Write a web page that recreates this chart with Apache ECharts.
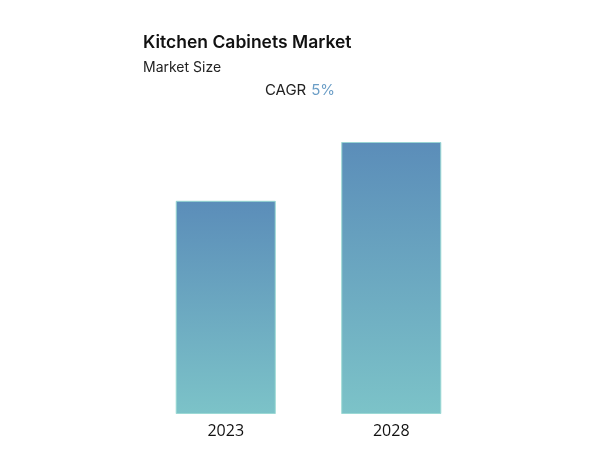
<!DOCTYPE html>
<html><head><meta charset="utf-8">
<script src="https://cdn.jsdelivr.net/npm/echarts@6/dist/echarts.min.js"></script>
<style>html,body{margin:0;padding:0;background:#fff}#c{width:600px;height:450px}</style>
</head><body><div id="c"></div>
<script>
const categories = ['2023', '2028'];
const values = [100, 127.6];
const titleText = 'Kitchen Cabinets Market';
const subtitleText = 'Market Size';
const cagrLabel = 'CAGR';
const cagrValue = '5%';

const chart = echarts.init(document.getElementById('c'));
chart.setOption({
  backgroundColor: '#fff',
  title: [{
    text: titleText, left: 143, top: 34, padding: 0,
    textStyle: {fontFamily: 'Inter', fontSize: 17.5, fontWeight: 600, color: '#111'}
  }, {
    text: subtitleText, left: 143, top: 61, padding: 0,
    textStyle: {fontFamily: 'Inter', fontSize: 14, fontWeight: 400, color: '#222'}
  }, {
    text: '{a|' + cagrLabel + '} {b|' + cagrValue + '}', left: 'center', top: 81, padding: 0,
    textStyle: {fontWeight: 'normal', rich: {
      a: {fontFamily: 'Inter', fontSize: 15, fontWeight: 'normal', color: '#222'},
      b: {fontFamily: 'Inter', fontSize: 15, fontWeight: 'normal', color: '#6a9dc6'}
    }}
  }],
  grid: {left: 143, right: 126, top: 142, bottom: 36},
  xAxis: {
    type: 'category', data: categories,
    axisLine: {show: false}, axisTick: {show: false},
    axisLabel: {fontFamily: 'Open Sans', fontSize: 16, color: '#111', margin: 9}
  },
  yAxis: {
    type: 'value', min: 0, max: 127.6, show: false, splitLine: {show: false}
  },
  series: [{
    type: 'bar', data: values, barWidth: 100,
    itemStyle: {
      color: new echarts.graphic.LinearGradient(0, 0, 0, 1, [
        {offset: 0, color: '#5b8db9'},
        {offset: 1, color: '#7cc3c8'}
      ]),
      borderColor: 'rgba(150,215,210,0.6)', borderWidth: 1
    },
    silent: true
  }]
});
</script></body></html>
